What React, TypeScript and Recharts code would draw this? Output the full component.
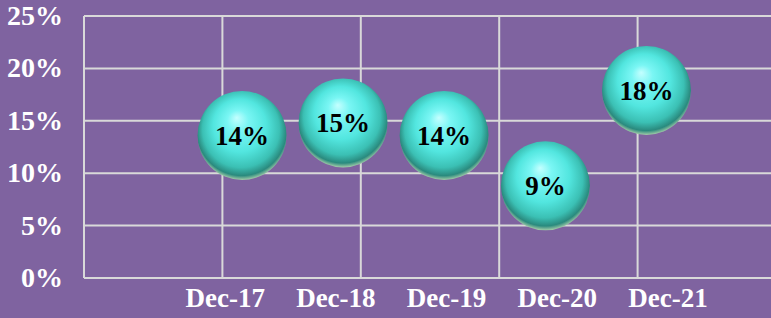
import { ScatterChart, Scatter, XAxis, YAxis, CartesianGrid, LabelList } from "recharts";

// year-end points (first day of December)
const dates = ["2017-12-01", "2018-12-01", "2019-12-01", "2020-12-01", "2021-12-01"];
const categories = ["Dec-17", "Dec-18", "Dec-19", "Dec-20", "Dec-21"];
const growth = [13.6, 14.8, 13.6, 8.8, 17.9];
const yTicks = [0, 5, 10, 15, 20, 25];

const FONT = "'Liberation Serif', 'Times New Roman', serif";
const DAY = 86400000;

const toDays = (d: string) => Date.parse(d) / DAY;

// date axis in days, major unit 500 days (like the spreadsheet date axis)
const axisStart = toDays("2016-05-09");
const axisStep = 500;
const gridDays = [0, 1, 2, 3, 4, 5].map((k) => axisStart + k * axisStep);
// the category captions sit on their own spacing under the plot
const labelDays = categories.map((_, i) => axisStart + 510 + i * 400);

const data = dates.map((d, i) => ({ x: toDays(d), y: growth[i], name: categories[i] }));

const Bubble = (props: any) => {
  const { cx, cy, index } = props;
  const id = `ball-${index}`;
  return (
    <g>
      <defs>
        <radialGradient id={id} cx="50%" cy="46%" r="54%" fx="44%" fy="30%">
          <stop offset="0%" stopColor="#c4ffff" />
          <stop offset="22%" stopColor="#7af6f4" />
          <stop offset="55%" stopColor="#52e6df" />
          <stop offset="80%" stopColor="#3bc0b4" />
          <stop offset="93%" stopColor="#2a8a7e" />
          <stop offset="100%" stopColor="#a2cca8" />
        </radialGradient>
      </defs>
      <circle cx={cx} cy={cy} r={44.5} fill={`url(#${id})`} />
    </g>
  );
};

const YTick = (props: any) => {
  const { y, payload } = props;
  return (
    <text x={63} y={y} dy={9} textAnchor="end" fill="#ffffff" fontFamily={FONT} fontWeight="bold" fontSize={28}>
      {`${payload.value}%`}
    </text>
  );
};

const XTick = (props: any) => {
  const { x, y, index } = props;
  return (
    <text x={x} y={y} dy={29} textAnchor="middle" fill="#ffffff" fontFamily={FONT} fontWeight="bold" fontSize={27}>
      {categories[index]}
    </text>
  );
};

export default function App() {
  return (
    <div
      style={{
        position: "fixed",
        left: 0,
        top: 0,
        width: 771,
        height: 318,
        overflow: "hidden",
        background: "#7f63a0",
      }}
    >
      <ScatterChart width={781} height={318} margin={{ top: 16, right: 5, bottom: 0, left: 0 }}>
        <CartesianGrid
          stroke="#d9d9d9"
          strokeWidth={2}
          verticalValues={gridDays}
          horizontalValues={yTicks}
          verticalFill={[]}
          horizontalFill={[]}
        />
        <XAxis
          dataKey="x"
          type="number"
          domain={[gridDays[0], gridDays[gridDays.length - 1]]}
          ticks={labelDays}
          axisLine={false}
          tickLine={false}
          tickSize={0}
          tickMargin={0}
          height={40}
          tick={<XTick />}
          interval={0}
        />
        <YAxis
          dataKey="y"
          type="number"
          domain={[0, 25]}
          ticks={yTicks}
          axisLine={false}
          tickLine={false}
          width={84}
          tick={<YTick />}
          interval={0}
        />
        <Scatter data={data} shape={<Bubble />} isAnimationActive={false}>
          <LabelList
            dataKey="y"
            position="center"
            formatter={(v: any) => `${Math.round(Number(v))}%`}
            fill="#000000"
            fontFamily={FONT}
            fontWeight="bold"
            fontSize={27}
          />
        </Scatter>
      </ScatterChart>
    </div>
  );
}
